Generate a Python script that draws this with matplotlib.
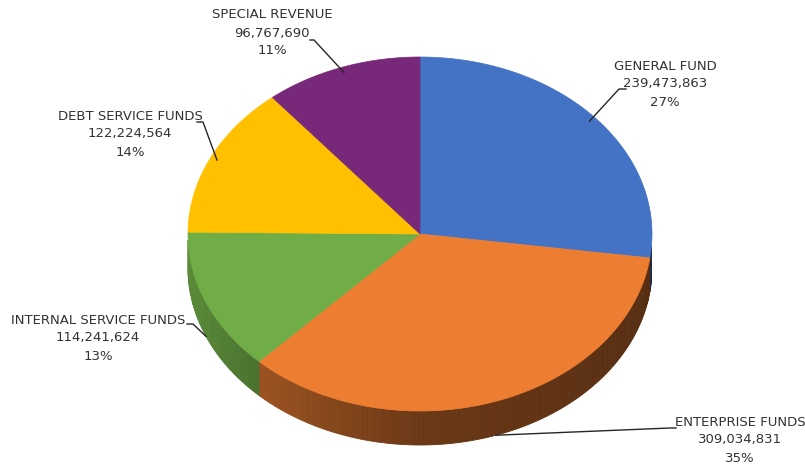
import numpy as np
import matplotlib.pyplot as plt
import matplotlib.colors as mcolors
from matplotlib.patches import Polygon

# data
categories = ["GENERAL FUND", "ENTERPRISE FUNDS", "INTERNAL SERVICE FUNDS",
              "DEBT SERVICE FUNDS", "SPECIAL REVENUE"]
values = [239473863, 309034831, 114241624, 122224564, 96767690]
colors = ["#4472C4", "#ED7D31", "#70AD47", "#FFC000", "#782878"]

# layout (pixel space)
cx, cy, rx, ry, depth = 420, 234, 232, 177, 34
label_xy = [(665, 84), (740, 440), (98, 338), (130, 134), (272, 33)]
elbows = [[(619, 89), (626, 89)],
          [(670, 428), (676, 428)],
          [(193, 324), (187, 324)],
          [(203, 122), (197, 122)],
          [(314, 40), (310, 40)]]


def pt(t, r=1.0):
    a = np.radians(t)
    return cx + r * rx * np.sin(a), cy - r * ry * np.cos(a)


def shade(x):
    return np.interp(x, [188, 257, 420, 650], [0.80, 0.66, 0.45, 0.37])


vals = np.array(values, dtype=float)
fracs = vals / vals.sum()
ends = np.cumsum(fracs) * 360
starts = ends - fracs * 360

fig = plt.figure(figsize=(8.05, 4.70), dpi=100)
ax = fig.add_axes([0, 0, 1, 1])
ax.set_xlim(0, 805)
ax.set_ylim(470, 0)
ax.axis("off")

# side walls (front half only)
for s, e, c in zip(starts, ends, colors):
    a, b = max(s, 94), min(e, 268)
    if a >= b:
        continue
    ts = np.append(np.arange(a, b, 1.0), b)
    base = np.array(mcolors.to_rgb(c))
    for t0, t1 in zip(ts[:-1], ts[1:]):
        x0, y0 = pt(t0)
        x1, y1 = pt(t1)
        col = np.clip(base * shade((x0 + x1) / 2), 0, 1)
        ax.add_patch(Polygon([(x0, y0), (x1, y1), (x1, y1 + depth), (x0, y0 + depth)],
                             closed=True, facecolor=col, edgecolor=col, lw=0.6))

# top faces
for s, e, c in zip(starts, ends, colors):
    ts = np.append(np.arange(s, e, 0.5), e)
    pts = [(cx, cy)] + [pt(t) for t in ts]
    ax.add_patch(Polygon(pts, closed=True, facecolor=c, edgecolor=c, lw=0.5))

# labels and leader lines
for i, (name, v, f) in enumerate(zip(categories, values, fracs)):
    mid = (starts[i] + ends[i]) / 2
    ex, ey = pt(mid, 0.97)
    if 90 < mid < 270:
        ex, ey = pt(mid)
        ey += depth
    xs = [ex] + [p[0] for p in elbows[i]]
    ys = [ey] + [p[1] for p in elbows[i]]
    ax.plot(xs, ys, color="#262626", lw=1.0)
    lx, ly = label_xy[i]
    ax.text(lx, ly, f"{name}\n{v:,}\n{f*100:.0f}%", ha="center", va="center",
            fontsize=9.5, color="#333333", linespacing=1.5, family="DejaVu Sans")

fig.savefig("out.png", dpi=100)
